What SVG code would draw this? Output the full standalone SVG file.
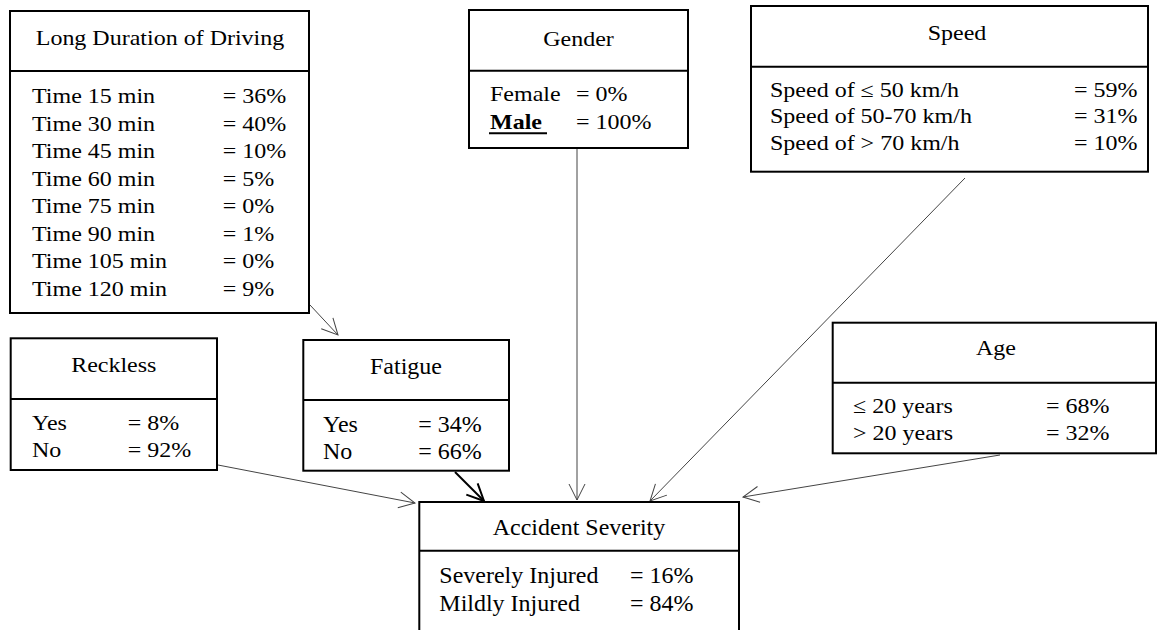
<svg xmlns="http://www.w3.org/2000/svg" width="1158" height="630" viewBox="0 0 1158 630">
<defs>
<style>
.box{fill:#fff;stroke:#000;stroke-width:2}
.div{stroke:#000;stroke-width:2}
text{font-family:"Liberation Serif","Times New Roman",serif;font-size:24px;fill:#000}
.t{text-anchor:middle}
.b{font-weight:bold}
.c{fill:none;stroke:#444;stroke-width:1}
.cb{fill:none;stroke:#000;stroke-width:2}
</style>
<marker id="ah" viewBox="0 0 18 18" refX="17" refY="9" markerWidth="18" markerHeight="18" markerUnits="userSpaceOnUse" orient="auto">
<path d="M1,1 L17,9 L1,17" fill="none" stroke="#444" stroke-width="1"/>
</marker>
<marker id="ahb" viewBox="0 0 20 20" refX="18" refY="10" markerWidth="20" markerHeight="20" markerUnits="userSpaceOnUse" orient="auto">
<path d="M1,2 L18,10 L1,18" fill="none" stroke="#000" stroke-width="2"/>
</marker>
</defs>
<rect width="1158" height="630" fill="#fff"/>

<g id="connectors">
<line class="c" x1="310" y1="305" x2="338" y2="335" marker-end="url(#ah)"/>
<line class="c" x1="218" y1="465" x2="415" y2="503" marker-end="url(#ah)"/>
<line class="cb" x1="455" y1="472" x2="484" y2="501" marker-end="url(#ahb)"/>
<line class="c" x1="577" y1="148" x2="577" y2="500" marker-end="url(#ah)"/>
<line class="c" x1="965" y1="178" x2="650" y2="501" marker-end="url(#ah)"/>
<line class="c" x1="1000" y1="455" x2="743" y2="497" marker-end="url(#ah)"/>
</g>

<g id="long-duration">
<rect class="box" x="10" y="11" width="299" height="302"/>
<line class="div" x1="10" y1="71" x2="309" y2="71"/>
<text class="t" transform="translate(160,45) scale(1,0.84)">Long Duration of Driving</text>
<text transform="translate(32,102.7) scale(1,0.84)">Time 15 min</text><text transform="translate(222.7,102.7) scale(1,0.84)">= 36%</text>
<text transform="translate(32,130.7) scale(1,0.84)">Time 30 min</text><text transform="translate(222.7,130.7) scale(1,0.84)">= 40%</text>
<text transform="translate(32,158.3) scale(1,0.84)">Time 45 min</text><text transform="translate(222.7,158.3) scale(1,0.84)">= 10%</text>
<text transform="translate(32,186) scale(1,0.84)">Time 60 min</text><text transform="translate(222.7,186) scale(1,0.84)">= 5%</text>
<text transform="translate(32,213.3) scale(1,0.84)">Time 75 min</text><text transform="translate(222.7,213.3) scale(1,0.84)">= 0%</text>
<text transform="translate(32,240.7) scale(1,0.84)">Time 90 min</text><text transform="translate(222.7,240.7) scale(1,0.84)">= 1%</text>
<text transform="translate(32,268.3) scale(1,0.84)">Time 105 min</text><text transform="translate(222.7,268.3) scale(1,0.84)">= 0%</text>
<text transform="translate(32,296) scale(1,0.84)">Time 120 min</text><text transform="translate(222.7,296) scale(1,0.84)">= 9%</text>
</g>

<g id="gender">
<rect class="box" x="469" y="10" width="219" height="138"/>
<line class="div" x1="469" y1="70.7" x2="688" y2="70.7"/>
<text class="t" transform="translate(578.5,46) scale(1,0.84)">Gender</text>
<text transform="translate(490,101) scale(1,0.84)">Female</text><text transform="translate(576,101) scale(1,0.84)">= 0%</text>
<text class="b" transform="translate(490,128.5) scale(1,0.84)">Male</text><text transform="translate(576,128.5) scale(1,0.84)">= 100%</text>
<line x1="489" y1="133.3" x2="547" y2="133.3" stroke="#000" stroke-width="2"/>
</g>

<g id="speed">
<rect class="box" x="751" y="6" width="397" height="165.7"/>
<line class="div" x1="751" y1="66.7" x2="1148" y2="66.7"/>
<text class="t" transform="translate(957,39.5) scale(1,0.84)">Speed</text>
<text transform="translate(770,96.7) scale(1,0.84)">Speed of ≤ 50 km/h</text><text transform="translate(1074,96.7) scale(1,0.84)">= 59%</text>
<text transform="translate(770,123.3) scale(1,0.84)">Speed of 50-70 km/h</text><text transform="translate(1074,123.3) scale(1,0.84)">= 31%</text>
<text transform="translate(770,150) scale(1,0.84)">Speed of &gt; 70 km/h</text><text transform="translate(1074,150) scale(1,0.84)">= 10%</text>
</g>

<g id="reckless">
<rect class="box" x="10.7" y="338.3" width="206.3" height="131.7"/>
<line class="div" x1="10.7" y1="399" x2="217" y2="399"/>
<text class="t" transform="translate(113.8,372) scale(1,0.88)">Reckless</text>
<text transform="translate(32,430) scale(1,0.88)">Yes</text><text transform="translate(127.7,430) scale(1,0.88)">= 8%</text>
<text transform="translate(32,456.7) scale(1,0.88)">No</text><text transform="translate(127.7,456.7) scale(1,0.88)">= 92%</text>
</g>

<g id="fatigue">
<rect class="box" x="303.3" y="340" width="205.7" height="130.7"/>
<line class="div" x1="303.3" y1="400" x2="509" y2="400"/>
<text class="t" transform="translate(406,374.3) scale(1,0.94)">Fatigue</text>
<text transform="translate(323,431.7) scale(1,0.94)">Yes</text><text transform="translate(418.3,431.7) scale(1,0.94)">= 34%</text>
<text transform="translate(323,459) scale(1,0.94)">No</text><text transform="translate(418.3,459) scale(1,0.94)">= 66%</text>
</g>

<g id="age">
<rect class="box" x="832.7" y="322.7" width="323.3" height="130.6"/>
<line class="div" x1="832.7" y1="382.7" x2="1156" y2="382.7"/>
<text class="t" transform="translate(996,355) scale(1,0.9)">Age</text>
<text transform="translate(853,413.3) scale(1,0.9)">≤ 20 years</text><text transform="translate(1046,413.3) scale(1,0.9)">= 68%</text>
<text transform="translate(853,440) scale(1,0.9)">&gt; 20 years</text><text transform="translate(1046,440) scale(1,0.9)">= 32%</text>
</g>

<g id="accident-severity">
<path class="box" d="M419.3,632 V502 H739 V632"/>
<line class="div" x1="419.3" y1="550.7" x2="739" y2="550.7"/>
<text class="t" transform="translate(579,535) scale(1,0.94)">Accident Severity</text>
<text transform="translate(439.3,583.3) scale(1,0.94)">Severely Injured</text><text transform="translate(630,583.3) scale(1,0.94)">= 16%</text>
<text transform="translate(439.3,611) scale(1,0.94)">Mildly Injured</text><text transform="translate(630,611) scale(1,0.94)">= 84%</text>
</g>
</svg>
